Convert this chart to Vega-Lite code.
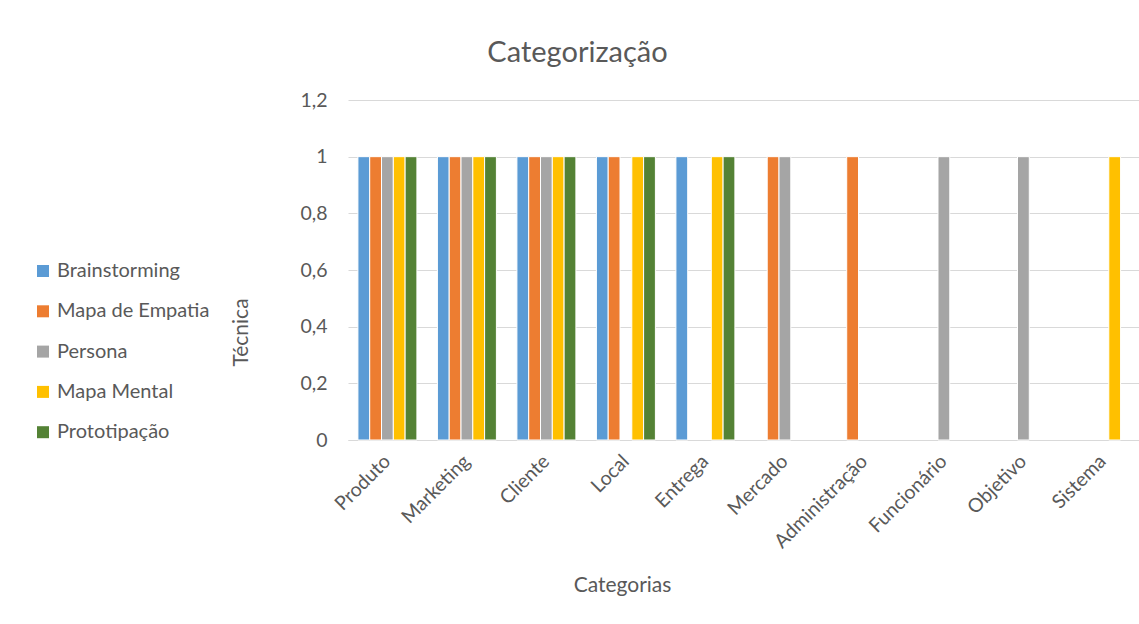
{
  "$schema": "https://vega.github.io/schema/vega-lite/v6.json",
  "width": 791,
  "height": 340,
  "autosize": "none",
  "padding": {"left": 348, "top": 100, "right": 0, "bottom": 184},
  "background": "white",
  "title": {
    "text": "Categorização",
    "anchor": "middle",
    "frame": "group",
    "dx": -166,
    "offset": 8,
    "baseline": "middle",
    "font": "Lato",
    "fontSize": 29,
    "fontWeight": "normal",
    "color": "#595959"
  },
  "config": {
    "view": {"stroke": null},
    "font": "Lato"
  },
  "data": {
    "values": [
      {"Categoria": "Produto", "Tecnica": "Brainstorming", "valor": 1},
      {"Categoria": "Produto", "Tecnica": "Mapa de Empatia", "valor": 1},
      {"Categoria": "Produto", "Tecnica": "Persona", "valor": 1},
      {"Categoria": "Produto", "Tecnica": "Mapa Mental", "valor": 1},
      {"Categoria": "Produto", "Tecnica": "Prototipação", "valor": 1},
      {"Categoria": "Marketing", "Tecnica": "Brainstorming", "valor": 1},
      {"Categoria": "Marketing", "Tecnica": "Mapa de Empatia", "valor": 1},
      {"Categoria": "Marketing", "Tecnica": "Persona", "valor": 1},
      {"Categoria": "Marketing", "Tecnica": "Mapa Mental", "valor": 1},
      {"Categoria": "Marketing", "Tecnica": "Prototipação", "valor": 1},
      {"Categoria": "Cliente", "Tecnica": "Brainstorming", "valor": 1},
      {"Categoria": "Cliente", "Tecnica": "Mapa de Empatia", "valor": 1},
      {"Categoria": "Cliente", "Tecnica": "Persona", "valor": 1},
      {"Categoria": "Cliente", "Tecnica": "Mapa Mental", "valor": 1},
      {"Categoria": "Cliente", "Tecnica": "Prototipação", "valor": 1},
      {"Categoria": "Local", "Tecnica": "Brainstorming", "valor": 1},
      {"Categoria": "Local", "Tecnica": "Mapa de Empatia", "valor": 1},
      {"Categoria": "Local", "Tecnica": "Mapa Mental", "valor": 1},
      {"Categoria": "Local", "Tecnica": "Prototipação", "valor": 1},
      {"Categoria": "Entrega", "Tecnica": "Brainstorming", "valor": 1},
      {"Categoria": "Entrega", "Tecnica": "Mapa Mental", "valor": 1},
      {"Categoria": "Entrega", "Tecnica": "Prototipação", "valor": 1},
      {"Categoria": "Mercado", "Tecnica": "Mapa de Empatia", "valor": 1},
      {"Categoria": "Mercado", "Tecnica": "Persona", "valor": 1},
      {"Categoria": "Administração", "Tecnica": "Mapa de Empatia", "valor": 1},
      {"Categoria": "Funcionário", "Tecnica": "Persona", "valor": 1},
      {"Categoria": "Objetivo", "Tecnica": "Persona", "valor": 1},
      {"Categoria": "Sistema", "Tecnica": "Mapa Mental", "valor": 1}
    ]
  },
  "mark": {"type": "bar", "stroke": "white", "strokeWidth": 1},
  "encoding": {
    "x": {
      "field": "Categoria",
      "type": "nominal",
      "sort": ["Produto", "Marketing", "Cliente", "Local", "Entrega", "Mercado", "Administração", "Funcionário", "Objetivo", "Sistema"],
      "scale": {
        "domain": ["Produto", "Marketing", "Cliente", "Local", "Entrega", "Mercado", "Administração", "Funcionário", "Objetivo", "Sistema"],
        "paddingInner": 0.258,
        "paddingOuter": 0.104,
        "align": 0.6
      },
      "axis": {
        "title": "Categorias",
        "titleX": 274,
        "titleY": 145,
        "titleBaseline": "middle",
        "titleAlign": "center",
        "titleFont": "Lato",
        "titleFontSize": 21,
        "titleFontWeight": "normal",
        "titleColor": "#595959",
        "labelAngle": -45,
        "labelAlign": "right",
        "labelBaseline": "middle",
        "labelPadding": 18,
        "labelFont": "Lato",
        "labelFontSize": 19.5,
        "labelColor": "#595959",
        "ticks": false,
        "domainColor": "#D9D9D9",
        "domainWidth": 1,
        "grid": false
      }
    },
    "xOffset": {
      "field": "Tecnica",
      "type": "nominal",
      "scale": {
        "domain": ["Brainstorming", "Mapa de Empatia", "Persona", "Mapa Mental", "Prototipação"],
        "paddingInner": 0,
        "paddingOuter": 0
      }
    },
    "y": {
      "field": "valor",
      "type": "quantitative",
      "scale": {"domain": [0, 1.2], "nice": false, "zero": true},
      "axis": {
        "title": "Técnica",
        "titleX": -107,
        "titleY": 232,
        "titleBaseline": "middle",
        "titleAlign": "center",
        "titleFont": "Lato",
        "titleFontSize": 21,
        "titleFontWeight": "normal",
        "titleColor": "#595959",
        "values": [0, 0.2, 0.4, 0.6, 0.8, 1, 1.2],
        "labelExpr": "replace(format(datum.value, '~g'), '.', ',')",
        "labelPadding": 21,
        "labelFont": "Lato",
        "labelFontSize": 19.5,
        "labelColor": "#595959",
        "ticks": false,
        "domain": false,
        "grid": true,
        "gridColor": "#D9D9D9",
        "gridWidth": 1
      }
    },
    "color": {
      "field": "Tecnica",
      "type": "nominal",
      "scale": {
        "domain": ["Brainstorming", "Mapa de Empatia", "Persona", "Mapa Mental", "Prototipação"],
        "range": ["#5B9BD5", "#ED7D31", "#A5A5A5", "#FFC000", "#548235"]
      },
      "legend": {
        "title": null,
        "orient": "none",
        "legendX": -315,
        "legendY": 161,
        "symbolType": "square",
        "symbolSize": 144,
        "symbolStrokeWidth": 0,
        "labelFont": "Lato",
        "labelFontSize": 20,
        "labelColor": "#595959",
        "labelOffset": 4,
        "rowPadding": 20.3,
        "padding": 0
      }
    }
  }
}
